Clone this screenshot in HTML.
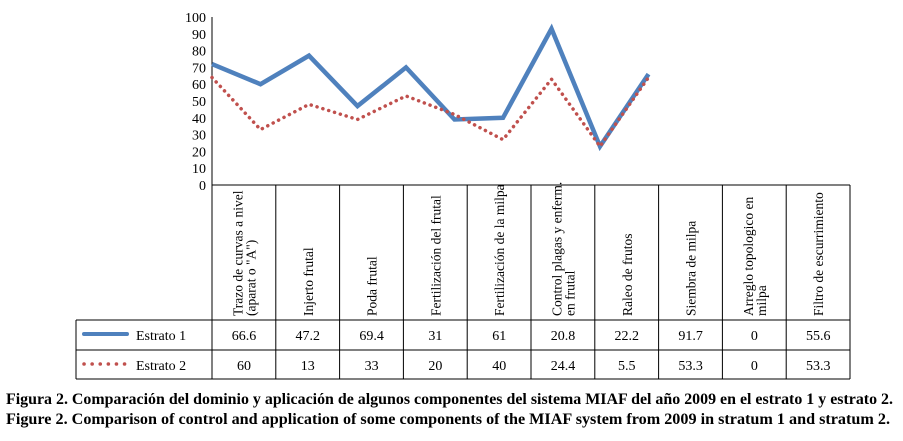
<!DOCTYPE html>
<html><head><meta charset="utf-8"><style>
body{margin:0;background:#fff;width:903px;height:436px;overflow:hidden}
svg{font-family:"Liberation Serif",serif}
</style></head><body>
<svg width="903" height="436">
<g id="axis"></g>
<g id="table"></g>
<g id="lines"></g>
<text x="6" y="404" font-size="16" font-weight="bold" textLength="887" lengthAdjust="spacingAndGlyphs">Figura 2. Comparación del dominio y aplicación de algunos componentes del sistema MIAF del año 2009 en el estrato 1 y estrato 2.</text>
<text x="6" y="424" font-size="16" font-weight="bold" textLength="884" lengthAdjust="spacingAndGlyphs">Figure 2. Comparison of control and application of some components of the MIAF system from 2009 in stratum 1 and stratum 2.</text>
</svg>
<script>
const categories=[["Trazo de curvas a nivel","(aparat o \"A\")"],["Injerto frutal"],["Poda frutal"],["Fertilización del frutal"],["Fertilización de la milpa"],["Control plagas y enferm.","en frutal"],["Raleo de frutos"],["Siembra de milpa"],["Arreglo topologico en","milpa"],["Filtro de escurrimiento"]];
const table1=["66.6","47.2","69.4","31","61","20.8","22.2","91.7","0","55.6"];
const table2=["60","13","33","20","40","24.4","5.5","53.3","0","53.3"];
const plot1=[72,60,77,47,70,39,40,93,23,66];
const plot2=[64,33,48,39,53,42,27,63,23,64];
const ticks=[0,10,20,30,40,50,60,70,80,90,100];
const NS="http://www.w3.org/2000/svg";
function mk(t,a,p){const e=document.createElementNS(NS,t);for(const k in a)e.setAttribute(k,a[k]);p.appendChild(e);return e;}
const y=v=>185-v*1.68, px=i=>212+i*48.5, cx=i=>212+i*63.8;
const ax=document.getElementById('axis'),tb=document.getElementById('table'),ln=document.getElementById('lines');
mk('line',{x1:212,y1:17,x2:212,y2:185,stroke:'#000'},ax);
ticks.forEach(t=>{const e=mk('text',{x:206,y:y(t)+5,'font-size':14,'text-anchor':'end'},ax);e.textContent=t;

});
mk('line',{x1:212,y1:185,x2:850,y2:185,stroke:'#000'},tb);
mk('line',{x1:76,y1:320,x2:850,y2:320,stroke:'#000'},tb);
mk('line',{x1:76,y1:350,x2:850,y2:350,stroke:'#000'},tb);
mk('line',{x1:76,y1:379,x2:850,y2:379,stroke:'#000'},tb);
mk('line',{x1:76,y1:320,x2:76,y2:379,stroke:'#000'},tb);
for(let i=0;i<=categories.length;i++)mk('line',{x1:cx(i),y1:185,x2:cx(i),y2:379,stroke:'#000'},tb);
categories.forEach((c,i)=>{const mx=cx(i)+32;
c.forEach((s,j)=>{const xx=mx+(j-(c.length-1)/2)*13+5;const e=mk('text',{x:xx,y:316,'font-size':13.5,transform:`rotate(-90 ${xx} 316)`},tb);e.textContent=s;

});
[table1,table2].forEach((arr,r)=>{const e=mk('text',{x:mx,y:r?370:340,'font-size':14,'text-anchor':'middle'},tb);e.textContent=arr[i];

});});
mk('line',{x1:84,y1:334,x2:127,y2:334,stroke:'#4f81bd','stroke-width':4,'stroke-linecap':'round'},tb);
mk('line',{x1:84,y1:364,x2:127,y2:364,stroke:'#c0504d','stroke-width':3.5,'stroke-linecap':'round','stroke-dasharray':'0.1 8'},tb);
let e=mk('text',{x:136,y:340,'font-size':14},tb);e.textContent='Estrato 1';

e=mk('text',{x:136,y:370,'font-size':14},tb);e.textContent='Estrato 2';

let p=mk('polyline',{points:plot1.map((v,i)=>px(i)+','+y(v)).join(' '),fill:'none',stroke:'#4f81bd','stroke-width':4.5,'stroke-linejoin':'miter'},ln);

p=mk('polyline',{points:plot2.map((v,i)=>px(i)+','+y(v)).join(' '),fill:'none',stroke:'#c0504d','stroke-width':3.5,'stroke-linecap':'round','stroke-dasharray':'0.1 6'},ln);

</script>
</body></html>
